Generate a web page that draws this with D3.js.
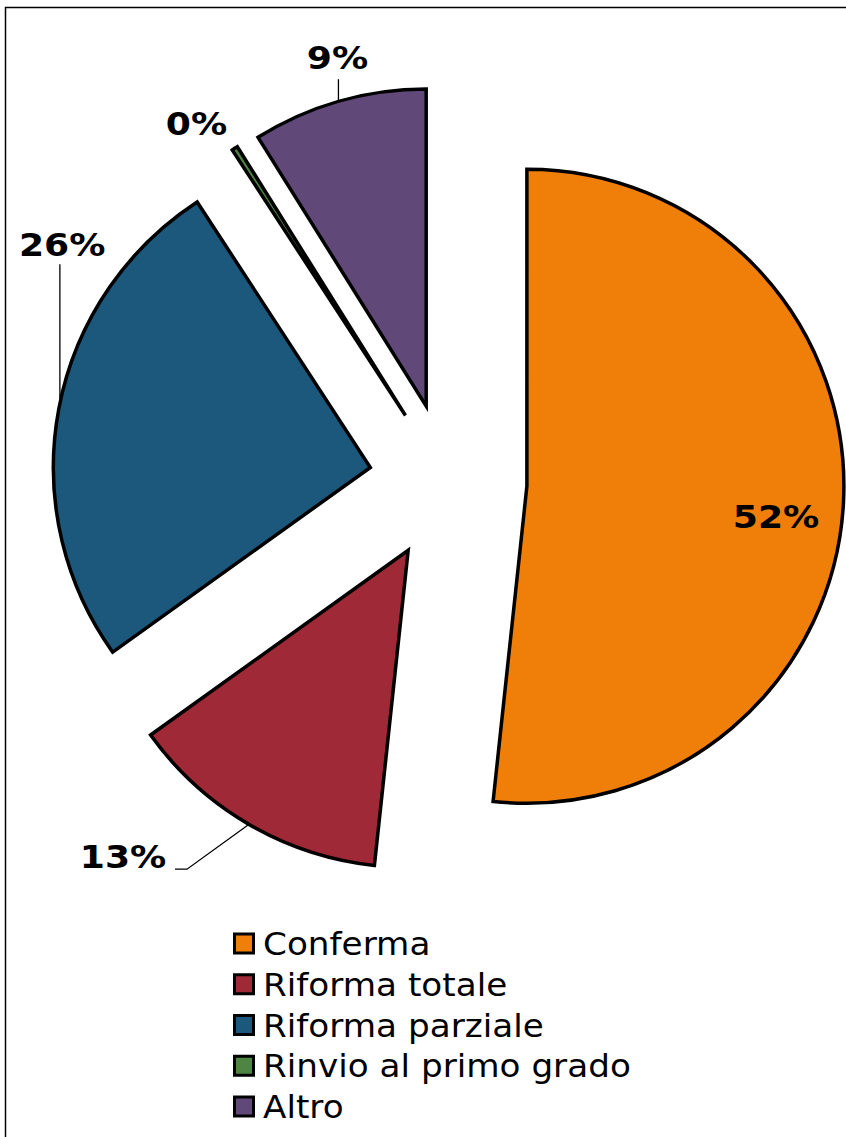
<!DOCTYPE html>
<html>
<head>
<meta charset="utf-8">
<script src="https://cdn.jsdelivr.net/npm/d3@7/dist/d3.min.js"></script>
<style>
  html, body { margin: 0; padding: 0; background: #fff; }
  svg { display: block; }
</style>
</head>
<body>
<script>
// ---- data ----
const categories = ["Conferma", "Riforma totale", "Riforma parziale", "Rinvio al primo grado", "Altro"];
const values = [51.7, 13.4, 25.7, 0.3, 8.9];
const valueLabels = ["52%", "13%", "26%", "0%", "9%"];
const colors = ["#F07F09", "#9F2936", "#1B587C", "#4E8542", "#604878"];

// ---- layout ----
const W = 846, H = 1137;
const cx = 448, cy = 482, R = 317, explode = 79;
// label polar position (degrees clockwise from top, distance) relative to each exploded slice apex
const labelPolar = [[97, 251], [222.9, 419], [305.8, 380], [324.4, 359], [345.7, 359]];

const svg = d3.select("body").append("svg").attr("width", W).attr("height", H);

// chart border (extends beyond the window right/bottom)
svg.append("rect")
  .attr("x", 5.5).attr("y", 7.5).attr("width", 1000).attr("height", 1300)
  .attr("fill", "none").attr("stroke", "#000").attr("stroke-width", 1.5);

const pie = d3.pie().sort(null).value(d => d);
const arcs = pie(values);
const arc = d3.arc().innerRadius(0).outerRadius(R);

const rad = a => a * Math.PI / 180;
const polar = (p, a, r) => [p[0] + r * Math.sin(a), p[1] - r * Math.cos(a)];
const apex = d => {
  const m = (d.startAngle + d.endAngle) / 2;
  return polar([cx, cy], m, explode);
};

const g = svg.append("g");
g.selectAll("path.slice")
  .data(arcs)
  .join("path")
  .attr("class", "slice")
  .attr("transform", d => { const p = apex(d); return `translate(${p[0]},${p[1]})`; })
  .attr("d", arc)
  .attr("fill", (d, i) => colors[i])
  .attr("stroke", "#000")
  .attr("stroke-width", 3.5)
  .attr("stroke-linejoin", "miter");

// labels
const labelPts = arcs.map((d, i) => polar(apex(d), rad(labelPolar[i][0]), labelPolar[i][1]));

// leader lines
const leaders = [];
{
  const d = arcs[1], p = apex(d), m = (d.startAngle + d.endAngle) / 2;
  const s = polar(p, m, R + 1), L = labelPts[1];
  leaders.push([s, [L[0] + 64, L[1] + 12], [L[0] + 52, L[1] + 12]]);
}
{
  const d = arcs[2], p = apex(d);
  const s = polar(p, rad(282.5), R + 1), L = labelPts[2];
  leaders.push([s, [s[0], L[1] + 19]]);
}
{
  const d = arcs[4], p = apex(d), m = (d.startAngle + d.endAngle) / 2;
  const s = polar(p, m, R + 1), L = labelPts[4];
  leaders.push([s, [s[0], L[1] + 21]]);
}
svg.selectAll("path.leader")
  .data(leaders)
  .join("path")
  .attr("class", "leader")
  .attr("d", d3.line())
  .attr("fill", "none")
  .attr("stroke", "#000")
  .attr("stroke-width", 1.3);

svg.selectAll("text.vlabel")
  .data(valueLabels)
  .join("text")
  .attr("class", "vlabel")
  .attr("transform", (d, i) => `translate(${labelPts[i][0]},${labelPts[i][1]}) scale(1.13,1)`)
  .attr("text-anchor", "middle")
  .attr("dominant-baseline", "central")
  .attr("font-family", "'DejaVu Sans', Verdana, sans-serif")
  .attr("font-weight", "bold")
  .attr("font-size", 32)
  .attr("fill", "#000")
  .text(d => d);

// legend
const legendY = d3.scalePoint().domain(categories).range([943.5, 1106.5]);
const lg = svg.append("g");
const rows = lg.selectAll("g").data(categories).join("g")
  .attr("transform", d => `translate(0,${legendY(d)})`);
rows.append("rect")
  .attr("x", 234.5).attr("y", -9.5).attr("width", 19).attr("height", 19)
  .attr("fill", (d, i) => colors[i])
  .attr("stroke", "#000").attr("stroke-width", 3);
rows.append("text")
  .attr("transform", "translate(263,11.5) scale(1.07,1)")
  .attr("font-family", "'DejaVu Sans', Verdana, sans-serif")
  .attr("font-size", 32)
  .attr("fill", "#000")
  .text(d => d);
</script>
</body>
</html>
